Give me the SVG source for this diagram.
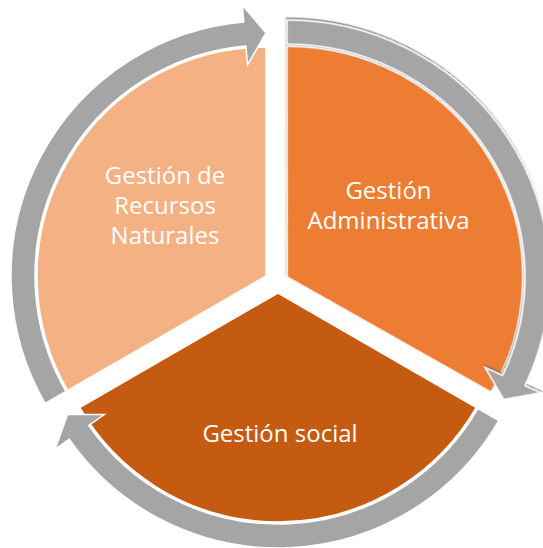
<svg xmlns="http://www.w3.org/2000/svg" xmlns:xlink="http://www.w3.org/1999/xlink" width="543" height="548" viewBox="0 0 543 548">
  <style>
    .lbl { font-family: "Open Sans", "Liberation Sans", sans-serif; font-size: 24px; fill: #ffffff; text-anchor: middle; }
    .wedge { stroke: #ffffff; stroke-width: 1.5; stroke-linejoin: miter; }
    .arrow { fill: #A5A5A5; stroke: #ffffff; stroke-width: 1.5; stroke-linejoin: miter; }
  </style>
  <defs>
    <path id="wedgeShape" d="M 0,0 L 0,-229 A 229 229 0 0 0 -198.3,114.5 Z"/>
    <path id="arrowShape" d="M -220.84,127.5 A 255 255 0 0 1 -22.23,-254.03 L -23.71,-270.96 L 0,-243 L -18.48,-211.19 L -20.13,-230.12 A 231 231 0 0 0 -200.05,115.5 Z"/>
    <filter id="shadow" x="-10%" y="-10%" width="120%" height="120%">
      <feDropShadow dx="-1.2" dy="1.2" stdDeviation="0.6" flood-color="#404040" flood-opacity="0.7"/>
    </filter>
  </defs>
  <rect x="0" y="0" width="543" height="548" fill="#ffffff"/>

  <g id="node-recursos-naturales">
    <use xlink:href="#wedgeShape" class="wedge" fill="#F4B183" transform="translate(266,276)"/>
    <text class="lbl" x="165" y="184">Gestión de</text>
    <text class="lbl" x="165" y="214">Recursos</text>
    <text class="lbl" x="165" y="244">Naturales</text>
  </g>

  <g id="node-administrativa">
    <use xlink:href="#wedgeShape" class="wedge" fill="#ED7D31" filter="url(#shadow)" transform="translate(287,277) scale(1.03,1.008) rotate(120)"/>
    <text class="lbl" x="388.5" y="198.5">Gestión</text>
    <text class="lbl" x="388.5" y="228.5">Administrativa</text>
  </g>

  <g id="node-social">
    <use xlink:href="#wedgeShape" class="wedge" fill="#C55A11" transform="translate(278,293) rotate(240)"/>
    <text class="lbl" x="280" y="442">Gestión social</text>
  </g>

  <g id="connectors">
    <use xlink:href="#arrowShape" class="arrow" transform="translate(266,276)"/>
    <use xlink:href="#arrowShape" class="arrow" filter="url(#shadow)" transform="translate(287,277) scale(1.03,1.008) rotate(120)"/>
    <use xlink:href="#arrowShape" class="arrow" transform="translate(278,293) rotate(240)"/>
  </g>

  <g id="labels-front">
  </g>
</svg>
